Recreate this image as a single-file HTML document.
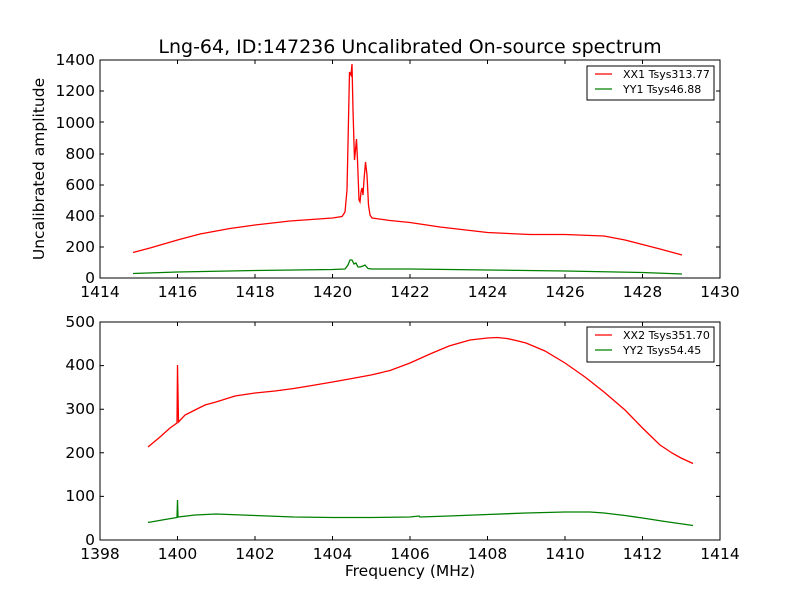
<!DOCTYPE html>
<html><head><style>body{margin:0;background:#fff}svg{display:block}text{font-family:"DejaVu Sans","Liberation Sans",sans-serif}</style></head><body>
<svg width="800" height="600" xmlns="http://www.w3.org/2000/svg">
<rect width="800" height="600" fill="#fff"/>
<text x="410" y="53" font-size="19" text-anchor="middle">Lng-64, ID:147236 Uncalibrated On-source spectrum</text>
<g font-size="15.5" text-anchor="middle">
<text x="100" y="297">1414</text><text x="177.5" y="297">1416</text><text x="255" y="297">1418</text><text x="332.5" y="297">1420</text><text x="410" y="297">1422</text><text x="487.5" y="297">1424</text><text x="565" y="297">1426</text><text x="642.5" y="297">1428</text><text x="720" y="297">1430</text>
</g>
<g font-size="15.5" text-anchor="end">
<text x="95" y="283">0</text><text x="95" y="252">200</text><text x="95" y="221">400</text><text x="95" y="190">600</text><text x="95" y="159">800</text><text x="95" y="128">1000</text><text x="95" y="96">1200</text><text x="95" y="65">1400</text>
</g>
<text transform="translate(44,169) rotate(-90)" font-size="15.5" text-anchor="middle">Uncalibrated amplitude</text>
<g stroke="#000" stroke-width="1">
<path d="M177.5 278v-4M255 278v-4M332.5 278v-4M410 278v-4M487.5 278v-4M565 278v-4M642.5 278v-4M177.5 60v4M255 60v4M332.5 60v4M410 60v4M487.5 60v4M565 60v4M642.5 60v4M100 247h4M100 216h4M100 185h4M100 154h4M100 122h4M100 91h4M720 247h-4M720 216h-4M720 185h-4M720 154h-4M720 122h-4M720 91h-4"/>
</g>
<polyline fill="none" stroke="#008000" stroke-width="1.3" points="133,273.5 177.5,272 255,270.5 332.5,269.5 345,269 348,265 350,260 352,260 354,264 356,263 358,267 360,267 363,266 365,265 368,268.5 372,269 410,269 487.5,270 565,271 642.5,272.5 682,274"/>
<polyline fill="none" stroke="#ff0000" stroke-width="1.3" points="133,252.5 150,248 177.5,240 200,234 230,228.5 255,225 290,221 332.5,218 342,216.5 345,212 347,190 348.5,120 349.5,72 351,75 352,64 353,110 354.5,160 355.5,150 356.5,139 357.5,160 359,200 360,202 361,192 362,188 363,195 364,180 365.5,162 367,175 368.5,205 370,215 372,218 390,220.5 410,222.5 440,227 487.5,232.5 530,234.5 565,234.5 604,236 625,240 642.5,244.5 660,249 682,255"/>
<rect x="100" y="60" width="620" height="218" fill="none" stroke="#000" stroke-width="1"/>
<rect x="587" y="66" width="127" height="34" fill="#fff" stroke="#000"/>
<line x1="595" y1="74" x2="612" y2="74" stroke="#ff0000" stroke-width="1.3"/>
<line x1="595" y1="89" x2="612" y2="89" stroke="#008000" stroke-width="1.3"/>
<text x="623" y="78" font-size="11">XX1 Tsys313.77</text>
<text x="623" y="93" font-size="11">YY1 Tsys46.88</text>
<g font-size="15.5" text-anchor="middle">
<text x="100" y="559">1398</text><text x="177.5" y="559">1400</text><text x="255" y="559">1402</text><text x="332.5" y="559">1404</text><text x="410" y="559">1406</text><text x="487.5" y="559">1408</text><text x="565" y="559">1410</text><text x="642.5" y="559">1412</text><text x="720" y="559">1414</text>
</g>
<g font-size="15.5" text-anchor="end">
<text x="95" y="545">0</text><text x="95" y="501">100</text><text x="95" y="458">200</text><text x="95" y="414">300</text><text x="95" y="370">400</text><text x="95" y="327">500</text>
</g>
<text x="410" y="576" font-size="15.5" text-anchor="middle">Frequency (MHz)</text>
<g stroke="#000" stroke-width="1">
<path d="M177.5 540v-4M255 540v-4M332.5 540v-4M410 540v-4M487.5 540v-4M565 540v-4M642.5 540v-4M177.5 322v4M255 322v4M332.5 322v4M410 322v4M487.5 322v4M565 322v4M642.5 322v4M100 496.4h4M100 452.8h4M100 409.2h4M100 365.6h4M720 496.4h-4M720 452.8h-4M720 409.2h-4M720 365.6h-4"/>
</g>
<polyline fill="none" stroke="#008000" stroke-width="1.3" points="148,522.5 165,519.5 177,517.5 177.5,500 178,517 195,515 216,514 255,515.5 293.8,517 332.5,517.5 371,517.5 410,517 419,516 420,517 449,516 487.5,514.5 526,513 565,512 590,512 604,513 625,515.5 642.5,518 665,521.5 693,525.5"/>
<polyline fill="none" stroke="#ff0000" stroke-width="1.3" points="148,447 160,437 170,428 177,423 177.5,365 178.5,422 185,415 195,410 205,405 216,402 235,396 255,393 275,391 293.8,388.5 312,385.5 332.5,382 352,378.5 371,375 390,370.5 410,363 430,354 449,346 470,340 487.5,338 497,337.5 507,338.5 516,340.5 526,343 545,351 565,363 585,377 604,392 625,410 642.5,428 660,445 672,453 681,458 693,463.5"/>
<rect x="100" y="322" width="620" height="218" fill="none" stroke="#000" stroke-width="1"/>
<rect x="587" y="327" width="127" height="35" fill="#fff" stroke="#000"/>
<line x1="595" y1="335" x2="612" y2="335" stroke="#ff0000" stroke-width="1.3"/>
<line x1="595" y1="350" x2="612" y2="350" stroke="#008000" stroke-width="1.3"/>
<text x="623" y="339" font-size="11">XX2 Tsys351.70</text>
<text x="623" y="354" font-size="11">YY2 Tsys54.45</text>
</svg>
</body></html>
